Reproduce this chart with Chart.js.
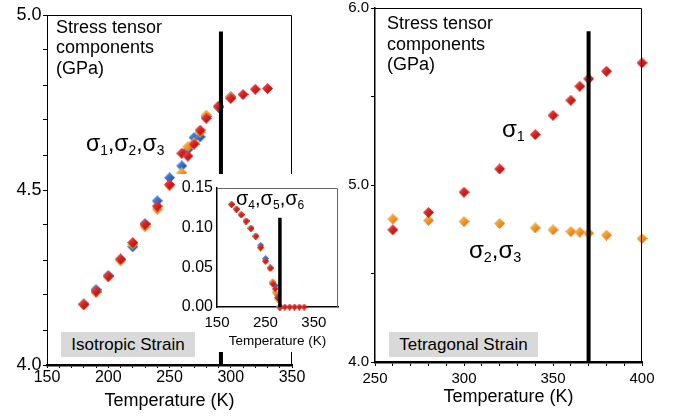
<!DOCTYPE html>
<html>
<head>
<meta charset="utf-8">
<script src="https://cdn.jsdelivr.net/npm/chart.js@4.4.1/dist/chart.umd.min.js"></script>
<style>
  body { margin: 0; background: #fff; width: 685px; height: 416px; overflow: hidden; position: relative; font-family: 'Liberation Sans', Arial, sans-serif; color: #000; }
  canvas { position: absolute; }
  .txt { position: absolute; font-size: 18px; line-height: 20.5px; white-space: nowrap; }
  .sig { position: absolute; line-height: 1; white-space: nowrap; }
  .sig sub { font-size: 0.6em; vertical-align: -0.3em; line-height: 0; }
  .tag { position: absolute; background: #d9d9d9; font-size: 17px; height: 25px; line-height: 25px; text-align: center; }
</style>
</head>
<body>
<canvas id="leftChart" width="340" height="416" style="left:0;top:0"></canvas>
<canvas id="rightChart" width="355" height="420" style="left:330px;top:-4px"></canvas>
<canvas id="insetChart" width="169" height="178" style="left:176px;top:174px"></canvas>

<div class="txt" style="left:56px;top:16.5px">Stress tensor<br>components<br>(GPa)</div>
<div class="txt" style="left:387px;top:13px">Stress tensor<br>components<br>(GPa)</div>
<div class="sig" style="left:86px;top:132px;font-size:23px">σ<sub>1</sub>,σ<sub>2</sub>,σ<sub>3</sub></div>
<div class="sig" style="left:236px;top:188px;font-size:20px">σ<sub>4</sub>,σ<sub>5</sub>,σ<sub>6</sub></div>
<div class="sig" style="left:502px;top:117px;font-size:24px">σ<sub>1</sub></div>
<div class="sig" style="left:469px;top:238px;font-size:24px">σ<sub>2</sub>,σ<sub>3</sub></div>
<div class="tag" style="left:61px;top:332px;width:134px">Isotropic Strain</div>
<div class="tag" style="left:389px;top:332px;width:149px">Tetragonal Strain</div>

<script>
// isotropic strain, sigma1..3 (GPa)
const leftTemps = [180, 190, 200, 210, 220, 230, 240, 250, 260, 265, 270, 275, 280, 290, 300, 310, 320, 330];
const leftRed = [4.173, 4.211, 4.254, 4.303, 4.350, 4.402, 4.454, 4.516, 4.605, 4.597, 4.631, 4.671, 4.705, 4.740, 4.762, 4.773, 4.788, 4.790];
const leftBlue = [4.175, 4.216, 4.256, 4.301, 4.338, 4.404, 4.469, 4.535, 4.569, 4.616, 4.650, 4.652, 4.710, 4.736, 4.767, null, null, null];
const leftOrange = [4.172, 4.207, 4.252, 4.298, 4.345, 4.395, 4.445, 4.512, 4.549, 4.624, 4.635, 4.665, 4.714, 4.738, 4.765, null, null, null];
const leftLineT = [292, 292];
const leftLineV = [4.953, 4.0];
const leftXLabels = [150, 200, 250, 300, 350];
const leftYLabels = [4.0, 4.5, 5.0];

// inset, sigma4..6
const insetRed = [0.129, 0.123, 0.116, 0.108, 0.099, 0.089, 0.075, 0.058, 0.049, 0.029, 0.023, 0.012, 0, 0, 0, 0, 0, 0];
const insetBlue = [0.129, 0.123, 0.116, 0.108, 0.099, 0.089, 0.0775, 0.061, 0.049, 0.031, 0.027, 0.015, 0, null, null, null, null, null];
const insetOrange = [0.129, 0.123, 0.116, 0.108, 0.099, 0.089, 0.074, 0.057, 0.048, 0.032, 0.018, 0.010, 0, null, null, null, null, null];
const insetLineT = [280, 280];
const insetLineV = [0.112, 0];
const insetXTicks = [150, 250, 350];

// tetragonal strain
const rightTemps = [260, 280, 300, 320, 340, 350, 360, 365, 370, 380, 400];
const rightSigma1 = [4.747, 4.845, 4.960, 5.091, 5.285, 5.394, 5.479, 5.558, 5.600, 5.643, 5.690];
const rightSigma23 = [4.808, 4.800, 4.794, 4.783, 4.758, 4.747, 4.737, 4.734, 4.728, 4.717, 4.698];
const rightLineT = [370, 370];
const rightLineV = [5.868, 4.0];
const rightYLabels = [4.0, 5.0, 6.0];
const rightXLabels = [250, 300, 350, 400];

Chart.defaults.font.family = "'Liberation Sans', Arial, sans-serif";
Chart.defaults.color = '#000';

function pts(xs, ys) {
    return xs.map((x, i) => ({ x: x, y: ys[i] })).filter(p => p.y !== null);
}

function diamond(size, light, mid, dark) {
    const c = document.createElement('canvas');
    c.width = size;
    c.height = size;
    const g = c.getContext('2d');
    const h = size / 2;
    const grad = g.createLinearGradient(0, 0, size, size);
    grad.addColorStop(0, light);
    grad.addColorStop(0.45, mid);
    grad.addColorStop(1, dark);
    g.fillStyle = grad;
    g.beginPath();
    g.moveTo(h, 0);
    g.lineTo(size, h);
    g.lineTo(h, size);
    g.lineTo(0, h);
    g.closePath();
    g.fill();
    return c;
}

const redBig = diamond(11, '#f47a6a', '#dc2222', '#9a0c0c');
const blueBig = diamond(11, '#8ab8f2', '#2d72d2', '#184a98');
const orangeBig = diamond(11, '#ffd070', '#f59a28', '#d06410');
const redSmall = diamond(7, '#f47a6a', '#dc2222', '#9a0c0c');
const blueSmall = diamond(7, '#8ab8f2', '#2d72d2', '#184a98');
const orangeSmall = diamond(7, '#ffd070', '#f59a28', '#d06410');

// white backing for the inset, thin top/right frame for every panel
const framePlugin = {
    id: 'frame',
    beforeDraw(chart, args, opts) {
        if (opts.background) {
            chart.ctx.save();
            chart.ctx.fillStyle = opts.background;
            chart.ctx.fillRect(0, 0, chart.width, chart.height);
            chart.ctx.restore();
        }
    },
    afterDraw(chart, args, opts) {
        const { ctx, chartArea: a } = chart;
        const top = Math.round(a.top) + 0.5;
        const right = Math.round(a.right) - 0.5;
        ctx.save();
        ctx.strokeStyle = opts.color;
        ctx.lineWidth = opts.width;
        ctx.beginPath();
        ctx.moveTo(a.left, top);
        ctx.lineTo(right, top);
        ctx.lineTo(right, a.bottom);
        ctx.stroke();
        ctx.restore();
    }
};
Chart.register(framePlugin);

function hasLabel(list, v) {
    return list.some(l => Math.abs(l - v) < 1e-6);
}

// left panel
new Chart(document.getElementById('leftChart'), {
    type: 'scatter',
    data: {
        datasets: [
            { data: pts(leftLineT, leftLineV), showLine: true, borderColor: '#000', borderWidth: 4, pointRadius: 0, order: 0 },
            { data: pts(leftTemps, leftRed), pointStyle: redBig, order: 1, clip: false },
            { data: pts(leftTemps, leftOrange), pointStyle: orangeBig, order: 2, clip: false },
            { data: pts(leftTemps, leftBlue), pointStyle: blueBig, order: 3, clip: false }
        ]
    },
    options: {
        responsive: false,
        animation: false,
        layout: { padding: { top: 15, right: 48, left: 0, bottom: 0 } },
        plugins: { legend: { display: false }, tooltip: { enabled: false }, frame: { color: '#000', width: 1 } },
        scales: {
            x: {
                min: 150, max: 350,
                afterFit: s => { s.height = 51; },
                ticks: { stepSize: 10, autoSkip: false, maxRotation: 0, padding: 0, font: { size: 16 },
                    callback: v => hasLabel(leftXLabels, v) ? String(v) : '' },
                grid: { drawOnChartArea: false, tickLength: 3, color: '#000' },
                border: { color: '#000', width: 2.5 },
                title: { display: true, text: 'Temperature (K)', font: { size: 18 }, padding: { top: 0, bottom: 4 } }
            },
            y: {
                min: 4, max: 5,
                afterFit: s => { s.width = 47; },
                ticks: { stepSize: 0.1, autoSkip: false, padding: 1.5, font: { size: 18 },
                    callback: v => hasLabel(leftYLabels, v) ? v.toFixed(1) : '' },
                grid: { drawOnChartArea: false, tickLength: 4, color: '#000' },
                border: { color: '#000', width: 1 }
            }
        }
    }
});

// right panel
new Chart(document.getElementById('rightChart'), {
    type: 'scatter',
    data: {
        datasets: [
            { data: pts(rightLineT, rightLineV), showLine: true, borderColor: '#000', borderWidth: 4, pointRadius: 0, order: 0 },
            { data: pts(rightTemps, rightSigma1), pointStyle: redBig, order: 1, clip: false },
            { data: pts(rightTemps, rightSigma23), pointStyle: orangeBig, order: 2, clip: false }
        ]
    },
    options: {
        responsive: false,
        animation: false,
        layout: { padding: { top: 12, right: 43, left: 0, bottom: 0 } },
        plugins: { legend: { display: false }, tooltip: { enabled: false }, frame: { color: '#000', width: 1 } },
        scales: {
            x: {
                min: 250, max: 400,
                afterFit: s => { s.height = 54; },
                ticks: { stepSize: 10, autoSkip: false, maxRotation: 0, padding: 4, font: { size: 15 },
                    callback: v => hasLabel(rightXLabels, v) ? String(v) : '' },
                grid: { drawOnChartArea: false, tickLength: 4, color: '#000' },
                border: { color: '#000', width: 2.5 },
                title: { display: true, text: 'Temperature (K)', font: { size: 18 }, padding: { top: 0, bottom: 8 } }
            },
            y: {
                min: 4, max: 6,
                afterFit: s => { s.width = 45; },
                ticks: { stepSize: 0.5, autoSkip: false, padding: 2, font: { size: 15 },
                    callback: v => hasLabel(rightYLabels, v) ? v.toFixed(1) : '' },
                grid: { drawOnChartArea: false, tickLength: 4, color: '#000' },
                border: { color: '#000', width: 1.5 }
            }
        }
    }
});

// inset of left panel
new Chart(document.getElementById('insetChart'), {
    type: 'scatter',
    data: {
        datasets: [
            { data: pts(insetLineT, insetLineV), showLine: true, borderColor: '#000', borderWidth: 3.5, pointRadius: 0, order: 0 },
            { data: pts(leftTemps, insetRed), pointStyle: redSmall, order: 1, clip: false },
            { data: pts(leftTemps, insetOrange), pointStyle: orangeSmall, order: 2, clip: false },
            { data: pts(leftTemps, insetBlue), pointStyle: blueSmall, order: 3, clip: false }
        ]
    },
    options: {
        responsive: false,
        animation: false,
        layout: { padding: { top: 11, right: 7, left: 0, bottom: 0 } },
        plugins: { legend: { display: false }, tooltip: { enabled: false }, frame: { color: '#666', width: 1, background: '#fff' } },
        scales: {
            x: {
                min: 150, max: 400,
                afterFit: s => { s.height = 45; },
                afterBuildTicks: s => { s.ticks = insetXTicks.map(v => ({ value: v })); },
                ticks: { autoSkip: false, maxRotation: 0, padding: 7, font: { size: 15 } },
                grid: { drawOnChartArea: false, drawTicks: false },
                border: { color: '#000', width: 1.5 },
                title: { display: true, text: 'Temperature (K)', font: { size: 13.5 }, padding: { top: 0, bottom: 3 } }
            },
            y: {
                min: 0, max: 0.15,
                afterFit: s => { s.width = 41; },
                ticks: { stepSize: 0.05, autoSkip: false, padding: 4, font: { size: 16 }, callback: v => v.toFixed(2) },
                grid: { drawOnChartArea: false, drawTicks: false },
                border: { color: '#000', width: 1.5 }
            }
        }
    }
});
</script>
</body>
</html>
